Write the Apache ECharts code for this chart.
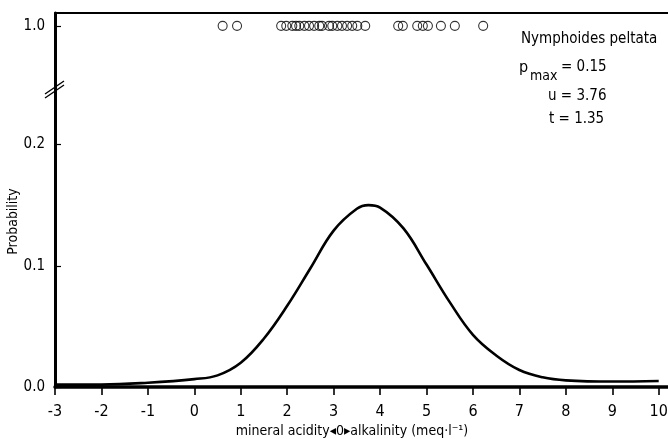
<!DOCTYPE html>
<html>
<head>
<meta charset="utf-8">
<style>
  html, body { margin: 0; padding: 0; background: #fff; }
  #chart { width: 668px; height: 439px; }
</style>
<script src="https://cdn.jsdelivr.net/npm/echarts@6.0.0/dist/echarts.min.js"></script>
</head>
<body>
<div id="chart"></div>
<script>
const FONT = "'Liberation Sans Narrow', 'DejaVu Sans Condensed', sans-serif";

// fitted response curve (probability of occurrence)
const curveX = [-3, -2, -1, 0, 0.5, 1, 1.5, 2, 2.5, 3, 3.5, 3.75, 4, 4.5, 5, 5.5, 6, 6.5, 7, 7.5, 8, 9, 10];
const curveP = [0.002, 0.002, 0.0035, 0.0065, 0.0096, 0.020, 0.040, 0.067, 0.098, 0.129, 0.147, 0.150, 0.148,
  0.131, 0.101, 0.070, 0.043, 0.026, 0.014, 0.008, 0.0055, 0.0045, 0.005];

// sites where the species was present (drawn at p = 1.0)
const presenceX = [0.61, 0.92, 1.87, 1.98, 2.11, 2.19, 2.26, 2.37, 2.47, 2.58, 2.69, 2.75, 2.90, 2.97, 3.08,
  3.18, 3.29, 3.40, 3.51, 3.68, 4.39, 4.49, 4.80, 4.92, 5.03, 5.31, 5.61, 6.22];

const xTicks = [-3, -2, -1, 0, 1, 2, 3, 4, 5, 6, 7, 8, 9, 10];
const yTicksLow = [0, 0.1, 0.2];
const yTicksHigh = [1.0];

const chart = echarts.init(document.getElementById("chart"));

const labelStyle = { color: "#000", fontFamily: FONT, fontSize: 15 };

chart.setOption({
  animation: false,
  grid: [
    { left: 55, right: 0, top: 13, height: 77, outerBoundsMode: "none" },
    { left: 55, right: 0, top: 90, bottom: 52, outerBoundsMode: "none" },
  ],
  xAxis: [
    {
      gridIndex: 0,
      type: "value",
      min: -3,
      max: 10.2,
      position: "top",
      axisLine: { show: true, onZero: false, lineStyle: { color: "#000", width: 2 } },
      axisTick: { show: false },
      axisLabel: { show: false },
      splitLine: { show: false },
    },
    {
      gridIndex: 1,
      type: "value",
      min: -3,
      max: 10.2,
      interval: 1,
      axisLine: { show: true, onZero: false, lineStyle: { color: "#000", width: 3.5 } },
      axisTick: { show: true, customValues: xTicks, length: 8, lineStyle: { color: "#000", width: 1.6 } },
      axisLabel: { customValues: xTicks, margin: 17, ...labelStyle, fontSize: 16 },
      splitLine: { show: false },
      name: "mineral acidity\u25C20\u25B8alkalinity (meq\u00B7l\u207B\u00B9)",
      nameLocation: "middle",
      nameGap: 37,
      nameMoveOverlap: false,
      nameTextStyle: { ...labelStyle, fontSize: 14, padding: [0, 19, 0, 0] },
    },
  ],
  yAxis: [
    {
      gridIndex: 0,
      type: "value",
      min: 0.8,
      max: 1.04,
      axisLine: { show: true, onZero: false, lineStyle: { color: "#000", width: 3 } },
      axisTick: { show: true, inside: true, customValues: yTicksHigh, length: 6, lineStyle: { color: "#000", width: 1.2 } },
      axisLabel: { customValues: yTicksHigh, margin: 10, formatter: (v) => v.toFixed(1), ...labelStyle },
      splitLine: { show: false },
    },
    {
      gridIndex: 1,
      type: "value",
      min: 0,
      max: 0.245,
      axisLine: { show: true, onZero: false, lineStyle: { color: "#000", width: 3 } },
      axisTick: { show: true, inside: true, customValues: yTicksLow, length: 6, lineStyle: { color: "#000", width: 1.2 } },
      axisLabel: { customValues: yTicksLow, margin: 10, formatter: (v) => v.toFixed(1), ...labelStyle },
      splitLine: { show: false },
      name: "Probability",
      nameLocation: "middle",
      nameRotate: 90,
      nameGap: 35,
      nameMoveOverlap: false,
      nameTextStyle: { ...labelStyle, fontSize: 14, padding: [0, 0, 0, 34] },
    },
  ],
  series: [
    {
      type: "line",
      xAxisIndex: 1,
      yAxisIndex: 1,
      data: curveX.map((x, i) => [x, curveP[i]]),
      smooth: 0.4,
      showSymbol: false,
      lineStyle: { color: "#000", width: 2.6 },
    },
    {
      type: "scatter",
      xAxisIndex: 0,
      yAxisIndex: 0,
      data: presenceX.map((x) => [x, 1.0]),
      symbol: "circle",
      symbolSize: 9,
      itemStyle: { color: "rgba(0,0,0,0)", borderColor: "#000", borderWidth: 1.1 },
    },
  ],
  graphic: [
    // axis break
    { type: "polygon", shape: { points: [[46, 94], [64, 82], [64, 86], [46, 98]] }, style: { fill: "#fff" } },
    { type: "line", shape: { x1: 45, y1: 94, x2: 64, y2: 81 }, style: { stroke: "#000", lineWidth: 1.4 } },
    { type: "line", shape: { x1: 45, y1: 98, x2: 64, y2: 85 }, style: { stroke: "#000", lineWidth: 1.4 } },
    // species and fitted parameters
    { type: "text", left: 521, top: 32, style: { text: "Nymphoides peltata", font: "15px " + FONT, fill: "#000" } },
    { type: "text", left: 519, top: 60, style: { text: "p", font: "16px " + FONT, fill: "#000" } },
    { type: "text", left: 530, top: 69, style: { text: "max", font: "14px " + FONT, fill: "#000" } },
    { type: "text", left: 561, top: 60, style: { text: "= 0.15", font: "15px " + FONT, fill: "#000" } },
    { type: "text", left: 548, top: 89, style: { text: "u = 3.76", font: "15px " + FONT, fill: "#000" } },
    { type: "text", left: 549, top: 112, style: { text: "t = 1.35", font: "15px " + FONT, fill: "#000" } },
  ],
});
</script>
</body>
</html>
